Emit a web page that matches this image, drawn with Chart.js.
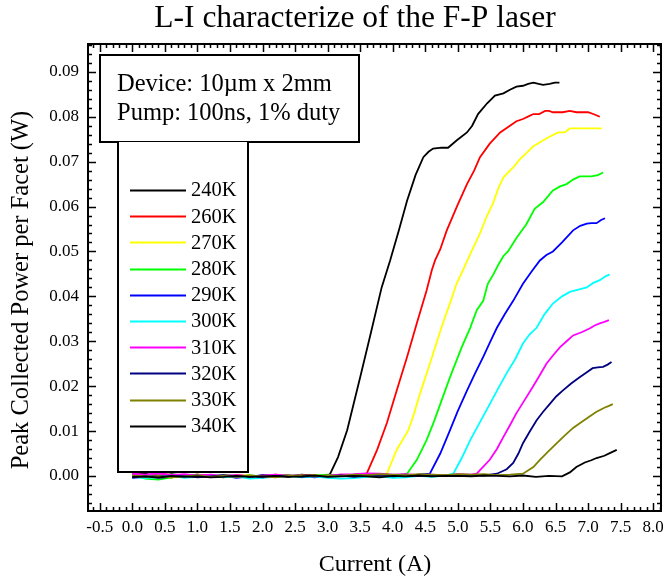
<!DOCTYPE html>
<html>
<head>
<meta charset="utf-8">
<script src="https://cdn.jsdelivr.net/npm/chart.js@4/dist/chart.umd.min.js"></script>
<style>
html,body{margin:0;padding:0;background:#fff;}
#wrap{width:663px;height:581px;}
</style>
</head>
<body>
<div id="wrap"><canvas id="c" width="663" height="581"></canvas></div>
<script>
const titleText = 'L-I characterize of the F-P laser';
const xTitle = 'Current (A)';
const yTitle = 'Peak Collected Power per Facet (W)';
const noteLines = ['Device: 10\u00B5m x 2mm', 'Pump: 100ns, 1% duty'];
const seriesLabels = ['240K','260K','270K','280K','290K','300K','310K','320K','330K','340K'];
const seriesColors = ['#000000','#ff0000','#ffff00','#00ff00','#0000ff','#00ffff','#ff00ff','#000080','#808000','#000000'];
const xTickValues = [-0.5,0.0,0.5,1.0,1.5,2.0,2.5,3.0,3.5,4.0,4.5,5.0,5.5,6.0,6.5,7.0,7.5,8.0];
const yTickValues = [0.00,0.01,0.02,0.03,0.04,0.05,0.06,0.07,0.08,0.09];

const cur240 = [0.0,0.2,0.4,0.6,0.8,1.0,1.2,1.4,1.6,1.8,2.0,2.2,2.4,2.6,2.8,3.0,3.04,3.16,3.30,3.50,3.65,3.83,3.96,4.10,4.22,4.35,4.47,4.55,4.62,4.75,4.85,4.98,5.14,5.22,5.31,5.45,5.57,5.70,5.80,5.90,6.00,6.08,6.16,6.24,6.31,6.41,6.49,6.56];
const pow240 = [0.0003,0.0005,-0.0002,0.0004,0.0001,0.0003,-0.0001,0.0002,0.0000,-0.0003,0.0002,0.0001,-0.0002,0.0003,0.0001,0.0000,0.0005,0.0042,0.0102,0.0220,0.0310,0.0420,0.0480,0.0550,0.0613,0.0670,0.0710,0.0722,0.0729,0.0731,0.0731,0.0747,0.0765,0.0780,0.0806,0.0830,0.0847,0.0852,0.0860,0.0867,0.0869,0.0873,0.0876,0.0873,0.0871,0.0873,0.0876,0.0876];

const cur260 = [0.0,0.2,0.4,0.6,0.8,1.0,1.2,1.4,1.6,1.8,2.0,2.2,2.4,2.6,2.8,3.0,3.2,3.4,3.60,3.76,3.91,4.06,4.22,4.37,4.52,4.60,4.65,4.73,4.83,5.00,5.14,5.25,5.34,5.49,5.65,5.80,5.90,6.00,6.10,6.16,6.25,6.34,6.40,6.46,6.55,6.61,6.72,6.82,6.90,7.00,7.10,7.18];
const pow260 = [0.0004,-0.0001,0.0006,0.0002,-0.0002,0.0003,0.0001,-0.0003,0.0002,0.0000,-0.0002,0.0003,0.0001,-0.0001,0.0002,0.0000,0.0003,0.0002,0.0005,0.0058,0.0118,0.0190,0.0265,0.0340,0.0413,0.0458,0.0480,0.0505,0.0547,0.0605,0.0650,0.0680,0.0710,0.0740,0.0765,0.0780,0.0790,0.0795,0.0802,0.0806,0.0806,0.0813,0.0813,0.0810,0.0810,0.0810,0.0813,0.0810,0.0810,0.0810,0.0805,0.0800];

const cur270 = [0.0,0.2,0.4,0.6,0.8,1.0,1.2,1.4,1.6,1.8,2.0,2.2,2.4,2.6,2.8,3.0,3.2,3.4,3.6,3.8,3.91,4.06,4.24,4.33,4.42,4.57,4.67,4.77,4.88,4.98,5.10,5.21,5.34,5.45,5.54,5.62,5.70,5.85,5.95,6.06,6.15,6.26,6.40,6.54,6.64,6.72,6.90,7.05,7.21];
const pow270 = [-0.0003,0.0002,0.0000,-0.0004,0.0001,0.0003,-0.0002,0.0001,-0.0001,0.0002,-0.0003,0.0000,0.0002,-0.0002,0.0001,-0.0001,0.0002,0.0000,0.0003,0.0001,0.0005,0.0058,0.0102,0.0140,0.0184,0.0250,0.0295,0.0340,0.0385,0.0428,0.0465,0.0500,0.0540,0.0580,0.0607,0.0640,0.0665,0.0687,0.0705,0.0720,0.0733,0.0743,0.0755,0.0765,0.0765,0.0774,0.0774,0.0774,0.0774];

const cur280 = [0.0,0.2,0.4,0.6,0.8,1.0,1.2,1.4,1.6,1.8,2.0,2.2,2.4,2.6,2.8,3.0,3.2,3.4,3.6,3.8,4.0,4.22,4.37,4.52,4.63,4.73,4.88,5.06,5.19,5.29,5.39,5.46,5.55,5.62,5.70,5.77,5.90,6.05,6.18,6.31,6.46,6.57,6.67,6.77,6.87,7.05,7.15,7.23];
const pow280 = [0.0002,-0.0006,-0.0008,-0.0003,0.0001,-0.0002,0.0002,0.0000,-0.0002,0.0001,-0.0001,0.0002,0.0000,-0.0002,0.0001,0.0003,0.0000,0.0002,-0.0001,0.0002,0.0001,0.0005,0.0036,0.0080,0.0120,0.0160,0.0220,0.0287,0.0330,0.0369,0.0390,0.0428,0.0450,0.0470,0.0490,0.0500,0.0530,0.0560,0.0595,0.0610,0.0636,0.0645,0.0650,0.0660,0.0667,0.0667,0.0670,0.0676];

const cur290 = [0.0,0.2,0.4,0.6,0.8,1.0,1.2,1.4,1.6,1.8,2.0,2.2,2.4,2.6,2.8,3.0,3.2,3.4,3.6,3.8,4.0,4.2,4.4,4.57,4.73,4.88,5.00,5.14,5.27,5.39,5.50,5.60,5.72,5.85,6.00,6.13,6.26,6.36,6.46,6.60,6.77,6.88,6.98,7.05,7.13,7.20,7.26];
const pow290 = [-0.0004,-0.0002,0.0001,-0.0003,0.0000,0.0002,-0.0002,0.0001,-0.0004,-0.0001,0.0001,-0.0002,0.0000,0.0001,-0.0003,0.0000,0.0002,-0.0001,0.0001,0.0000,0.0002,0.0001,0.0003,0.0005,0.0050,0.0102,0.0145,0.0190,0.0230,0.0265,0.0300,0.0330,0.0360,0.0390,0.0428,0.0455,0.0480,0.0492,0.0500,0.0520,0.0547,0.0557,0.0562,0.0563,0.0563,0.0570,0.0574];

const cur300 = [0.0,0.2,0.4,0.6,0.8,1.0,1.2,1.4,1.6,1.8,2.0,2.2,2.4,2.6,2.8,3.0,3.2,3.4,3.6,3.8,4.0,4.2,4.4,4.6,4.8,4.93,5.06,5.19,5.34,5.49,5.62,5.75,5.88,6.00,6.10,6.21,6.33,6.46,6.60,6.72,6.85,6.98,7.08,7.18,7.25,7.33];
const pow300 = [-0.0002,-0.0005,-0.0003,0.0001,-0.0004,-0.0002,0.0000,-0.0003,-0.0001,-0.0006,-0.0004,-0.0002,0.0000,-0.0003,-0.0001,-0.0004,-0.0006,-0.0005,-0.0002,-0.0001,-0.0004,-0.0003,0.0000,-0.0002,0.0001,0.0005,0.0040,0.0080,0.0120,0.0160,0.0195,0.0229,0.0260,0.0295,0.0315,0.0330,0.0360,0.0384,0.0400,0.0410,0.0415,0.0420,0.0430,0.0436,0.0443,0.0449];

const cur310 = [0.0,0.2,0.4,0.6,0.8,1.0,1.2,1.4,1.6,1.8,2.0,2.2,2.4,2.6,2.8,3.0,3.2,3.4,3.6,3.8,4.0,4.2,4.4,4.6,4.8,5.0,5.2,5.29,5.49,5.60,5.70,5.80,5.90,6.03,6.15,6.26,6.36,6.47,6.57,6.67,6.77,6.90,7.03,7.10,7.18,7.25,7.32];
const pow310 = [0.0005,0.0003,0.0006,0.0002,0.0004,0.0001,0.0003,0.0000,0.0002,-0.0001,0.0001,0.0003,0.0000,0.0002,-0.0001,0.0001,0.0003,0.0004,0.0006,0.0005,0.0003,0.0004,0.0002,0.0003,0.0001,0.0004,0.0003,0.0005,0.0036,0.0060,0.0087,0.0113,0.0140,0.0170,0.0198,0.0225,0.0250,0.0270,0.0287,0.0300,0.0313,0.0320,0.0329,0.0335,0.0340,0.0343,0.0347];

const cur320 = [0.0,0.2,0.4,0.6,0.8,1.0,1.2,1.4,1.6,1.8,2.0,2.2,2.4,2.6,2.8,3.0,3.2,3.4,3.6,3.8,4.0,4.2,4.4,4.6,4.8,5.0,5.2,5.4,5.6,5.75,5.85,5.93,6.00,6.10,6.21,6.31,6.41,6.51,6.61,6.74,6.87,6.97,7.07,7.15,7.23,7.30,7.36];
const pow320 = [-0.0003,-0.0001,-0.0004,-0.0002,0.0000,-0.0003,-0.0001,0.0001,-0.0002,0.0000,-0.0003,-0.0001,0.0001,-0.0002,0.0000,-0.0001,0.0001,-0.0002,0.0000,0.0001,-0.0001,0.0001,0.0000,0.0002,0.0001,0.0000,0.0002,0.0001,0.0005,0.0015,0.0029,0.0050,0.0073,0.0098,0.0124,0.0143,0.0160,0.0177,0.0190,0.0206,0.0220,0.0230,0.0240,0.0242,0.0243,0.0248,0.0254];

const cur330 = [0.0,0.2,0.4,0.6,0.8,1.0,1.2,1.4,1.6,1.8,2.0,2.2,2.4,2.6,2.8,3.0,3.2,3.4,3.6,3.8,4.0,4.2,4.4,4.6,4.8,5.0,5.2,5.4,5.6,5.8,6.0,6.16,6.26,6.39,6.52,6.64,6.77,6.90,7.00,7.13,7.25,7.32,7.38];
const pow330 = [0.0001,-0.0002,0.0000,-0.0003,-0.0001,0.0001,-0.0002,0.0000,-0.0002,0.0001,-0.0001,-0.0003,0.0000,0.0002,-0.0001,0.0001,0.0000,0.0003,0.0002,0.0004,0.0003,0.0002,0.0004,0.0003,0.0002,0.0004,0.0003,0.0004,0.0002,0.0003,0.0005,0.0020,0.0036,0.0055,0.0073,0.0090,0.0107,0.0120,0.0130,0.0143,0.0152,0.0156,0.0160];

const cur340 = [0.0,0.2,0.4,0.6,0.8,1.0,1.2,1.4,1.6,1.8,2.0,2.2,2.4,2.6,2.8,3.0,3.2,3.4,3.6,3.8,4.0,4.2,4.4,4.6,4.8,5.0,5.2,5.4,5.6,5.8,6.0,6.2,6.4,6.6,6.72,6.82,6.95,7.05,7.13,7.25,7.35,7.44];
const pow340 = [-0.0002,-0.0001,-0.0003,0.0000,-0.0002,-0.0001,-0.0003,-0.0002,0.0000,-0.0002,-0.0001,0.0000,-0.0002,-0.0001,0.0001,-0.0002,-0.0001,0.0000,-0.0001,-0.0003,0.0000,-0.0001,0.0001,-0.0001,0.0000,0.0000,-0.0001,0.0001,0.0000,-0.0001,0.0001,-0.0002,0.0000,-0.0001,0.0008,0.0020,0.0030,0.0035,0.0040,0.0045,0.0052,0.0058];

const currents = [cur240,cur260,cur270,cur280,cur290,cur300,cur310,cur320,cur330,cur340];
const powers = [pow240,pow260,pow270,pow280,pow290,pow300,pow310,pow320,pow330,pow340];

const SERIF = "'Liberation Serif','Times New Roman',serif";

const datasets = seriesLabels.map((lab, i) => ({
  label: lab,
  data: currents[i].map((x, j) => ({x: x, y: powers[i][j]})),
  borderColor: seriesColors[i],
  backgroundColor: seriesColors[i],
  borderWidth: 1.8,
  pointRadius: 0,
  tension: 0,
  fill: false,
  order: seriesLabels.length - i
}));

const decor = {
  id: 'decor',
  afterDatasetsDraw(chart) {
    const ctx = chart.ctx;
    const a = chart.chartArea;
    const xs = chart.scales.x, ys = chart.scales.y;
    ctx.save();
    ctx.strokeStyle = '#000';
    ctx.lineWidth = 1.5;
    ctx.beginPath();
    for (let k = -7; k <= 82; k++) {
      const v = k / 10;
      if (v < xs.min || v > xs.max) continue;
      const px = Math.round(xs.getPixelForValue(v)) + 0.5;
      const len = (k % 5 === 0) ? 8 : 4;
      ctx.moveTo(px, a.bottom); ctx.lineTo(px, a.bottom - len);
      ctx.moveTo(px, a.top); ctx.lineTo(px, a.top + len);
    }
    for (let k = -4; k <= 48; k++) {
      const v = k / 500;
      if (v < ys.min || v > ys.max) continue;
      const py = Math.round(ys.getPixelForValue(v)) + 0.5;
      const len = (k % 5 === 0) ? 8 : 4;
      ctx.moveTo(a.left, py); ctx.lineTo(a.left + len, py);
      ctx.moveTo(a.right, py); ctx.lineTo(a.right - len, py);
    }
    ctx.stroke();
    ctx.lineWidth = 2;
    ctx.strokeRect(a.left, a.top, a.right - a.left, a.bottom - a.top);

    // note box
    ctx.fillStyle = '#fff';
    ctx.fillRect(100, 55, 259, 87);
    ctx.strokeRect(100, 55, 259, 87);
    // legend box
    ctx.fillRect(118, 142, 130, 330);
    ctx.beginPath();
    ctx.moveTo(118, 142); ctx.lineTo(118, 472); ctx.lineTo(248, 472); ctx.lineTo(248, 142);
    ctx.stroke();

    ctx.fillStyle = '#000';
    ctx.textAlign = 'left';
    ctx.textBaseline = 'middle';
    ctx.font = '24.5px ' + SERIF;
    ctx.fillText(noteLines[0], 117, 85);
    ctx.fillText(noteLines[1], 117, 114);

    ctx.font = '20.5px ' + SERIF;
    chart.data.datasets.forEach((ds, i) => {
      const y = 190 + i * 26.2;
      ctx.strokeStyle = ds.borderColor;
      ctx.lineWidth = 2;
      ctx.beginPath();
      ctx.moveTo(130, Math.round(y) + 0.5); ctx.lineTo(186, Math.round(y) + 0.5);
      ctx.stroke();
      ctx.fillStyle = '#000';
      ctx.fillText(ds.label, 191, y + 1);
    });

    ctx.textAlign = 'center';
    ctx.font = '31.5px ' + SERIF;
    ctx.fillText(titleText, 355, 19);
    ctx.font = '24px ' + SERIF;
    ctx.fillText(xTitle, 375, 565);
    ctx.save();
    ctx.translate(22, 290);
    ctx.rotate(-Math.PI / 2);
    ctx.font = '24.5px ' + SERIF;
    ctx.fillText(yTitle, 0, 0);
    ctx.restore();
    ctx.restore();
  }
};

new Chart(document.getElementById('c'), {
  type: 'line',
  data: { datasets: datasets },
  options: {
    responsive: false,
    animation: false,
    layout: { padding: { top: 44, right: 2, left: 0, bottom: 0 } },
    plugins: { legend: { display: false }, tooltip: { enabled: false }, title: { display: false } },
    scales: {
      x: {
        type: 'linear',
        min: -0.68,
        max: 8.12,
        grid: { display: false, drawTicks: false },
        border: { display: false },
        afterBuildTicks: (s) => { s.ticks = xTickValues.map(v => ({value: v})); },
        afterFit: (s) => { s.height = 70; s.paddingLeft = 0; s.paddingRight = 0; },
        ticks: {
          color: '#000',
          font: { family: SERIF, size: 17 },
          padding: 6,
          maxRotation: 0,
          autoSkip: false,
          callback: (v) => Number(v).toFixed(1)
        }
      },
      y: {
        type: 'linear',
        min: -0.0078,
        max: 0.0962,
        grid: { display: false, drawTicks: false },
        border: { display: false },
        afterBuildTicks: (s) => { s.ticks = yTickValues.map(v => ({value: v})); },
        afterFit: (s) => { s.width = 88; s.paddingTop = 0; s.paddingBottom = 0; },
        ticks: {
          color: '#000',
          font: { family: SERIF, size: 17 },
          padding: 9,
          autoSkip: false,
          callback: (v) => Number(v).toFixed(2)
        }
      }
    }
  },
  plugins: [decor]
});
</script>
</body>
</html>
